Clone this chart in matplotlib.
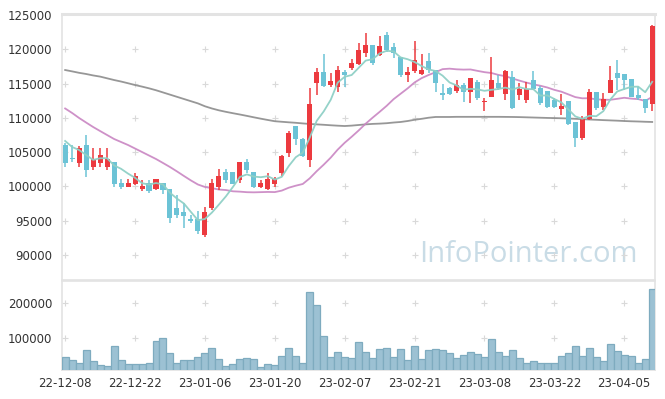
import matplotlib
matplotlib.use("Agg")
import matplotlib.pyplot as plt
import numpy as np

# ---------------- data ----------------
dates = ["22-12-08", "22-12-09", "22-12-12", "22-12-13", "22-12-14", "22-12-15", "22-12-16",
         "22-12-19", "22-12-20", "22-12-21", "22-12-22", "22-12-23", "22-12-26", "22-12-27",
         "22-12-28", "22-12-29",
         "23-01-02", "23-01-03", "23-01-04", "23-01-05", "23-01-06", "23-01-09", "23-01-10",
         "23-01-11", "23-01-12", "23-01-13", "23-01-16", "23-01-17", "23-01-18", "23-01-19",
         "23-01-20", "23-01-25", "23-01-26", "23-01-27", "23-01-30", "23-01-31",
         "23-02-01", "23-02-02", "23-02-03", "23-02-06", "23-02-07", "23-02-08", "23-02-09",
         "23-02-10", "23-02-13", "23-02-14", "23-02-15", "23-02-16", "23-02-17", "23-02-20",
         "23-02-21", "23-02-22", "23-02-23", "23-02-24", "23-02-27", "23-02-28",
         "23-03-02", "23-03-03", "23-03-06", "23-03-07", "23-03-08", "23-03-09", "23-03-10",
         "23-03-13", "23-03-14", "23-03-15", "23-03-16", "23-03-17", "23-03-20", "23-03-21",
         "23-03-22", "23-03-23", "23-03-24", "23-03-27", "23-03-28", "23-03-29", "23-03-30",
         "23-03-31",
         "23-04-03", "23-04-04", "23-04-05", "23-04-06", "23-04-07", "23-04-10", "23-04-11"]

opens = [106040, 104100, 103420, 106040, 102830, 103420, 102830, 103560, 100500, 99920,
         100350, 99630, 100500, 99630, 100500, 99630, 96850, 96270, 95250, 95250,
         92920, 96850, 99920, 102100, 102100, 100940, 103560, 102100, 99920, 99630,
         100350, 101960, 104880, 108810, 106920, 103850, 115080, 116690, 114790, 114500,
         116690, 117270, 117850, 119460, 120630, 119170, 122080, 120330, 118880, 116250,
         116830, 116400, 118290, 116980, 113620, 114350, 113920, 114790, 113770, 115230,
         112310, 113040, 115080, 113480, 115960, 113330, 112600, 115520, 114350, 113920,
         112600, 111290, 112460, 109400, 107060, 109830, 113770, 111580, 113620, 116540,
         116400, 115670, 113330, 112750, 112020]
highs = [106330, 106040, 105900, 107500, 105600, 105600, 105600, 103560, 101080, 101080,
         101960, 100940, 100940, 101080, 100500, 99630, 98750, 97580, 95830, 96420,
         97000, 101080, 102540, 102540, 102100, 103560, 104000, 102100, 100940, 101960,
         101370, 104580, 108080, 108810, 107000, 114350, 117270, 119310, 116540, 117560,
         116980, 118580, 120920, 122380, 120630, 121940, 122520, 120920, 118880, 117420,
         121210, 119310, 119460, 116980, 114940, 114500, 115520, 115080, 115810, 115520,
         112900, 118880, 116250, 116980, 116830, 115080, 115230, 116830, 114650, 113920,
         112900, 113480, 112460, 109400, 110290, 114210, 113770, 113620, 117560, 118440,
         116400, 115670, 114500, 112750, 123540]
lows = [102830, 103560, 102830, 101370, 102400, 102830, 102400, 99920, 99630, 99920,
        100200, 99330, 99040, 99480, 98900, 94670, 95400, 93940, 94670, 93060,
        92630, 96560, 99480, 100500, 100350, 100500, 101960, 99770, 99770, 99480,
        99920, 101520, 104290, 106040, 104290, 102830, 113330, 114500, 114500, 113770,
        114500, 116980, 117710, 118880, 117710, 119020, 119600, 118730, 115960, 115230,
        116540, 116250, 116540, 113770, 112600, 113330, 113620, 112310, 112170, 112600,
        111000, 113040, 114060, 112600, 111300, 112600, 112170, 114060, 111900, 111440,
        111440, 110420, 108960, 105750, 106770, 109690, 111150, 111150, 113620, 114060,
        114060, 113040, 112600, 110710, 111000]
closes = [103420, 103950, 105600, 102400, 104000, 104580, 104000, 100350, 99920, 100500,
          101520, 100060, 99330, 101080, 99480, 95400, 95830, 95690, 94960, 93500,
          96270, 100500, 101520, 100940, 100350, 103560, 102400, 99920, 100500, 101080,
          101080, 104440, 107790, 106920, 104440, 112020, 116690, 114650, 115380, 116980,
          116250, 118000, 119900, 120630, 118000, 120480, 119900, 119460, 116250, 116690,
          118440, 116980, 116980, 115080, 113330, 113480, 114790, 113770, 115810, 112900,
          112460, 115520, 114350, 116830, 111440, 114210, 114210, 114210, 112170, 111580,
          111580, 111730, 109100, 107060, 109830, 113770, 111440, 112750, 115520, 115810,
          115520, 113040, 112900, 111440, 123400]
volumes = [42700, 34000, 25300, 63100, 31100, 19500, 16600, 74700, 34000, 22400,
           22400, 22400, 25300, 89200, 98000, 54400, 25300, 34000, 34000, 42700,
           54400, 68900, 36900, 16600, 22400, 36900, 39800, 36900, 13700, 22400,
           19500, 45600, 68900, 45600, 25300, 231700, 193900, 103800, 42700, 57300,
           42700, 39800, 86300, 57300, 39800, 66000, 68900, 42700, 66000, 34000,
           74700, 36900, 63100, 66000, 63100, 54400, 39800, 48500, 57300, 51500,
           42700, 95100, 57300, 45600, 63100, 39800, 25300, 31100, 25300, 25300,
           25300, 45600, 54400, 74700, 45600, 68900, 42700, 31100, 80500, 60200,
           48500, 45600, 25300, 36900, 240400]

# moving-average values read off the chart where earlier history is not shown
ma5_head = [106630, 105750, 105310, 104580]
ma20_head = [111370, 110710, 109980, 109320, 108670, 108080, 107500, 106920, 106480, 106040,
             105530, 105020, 104510, 104000, 103420, 102830, 102190, 101520, 100870]
ma_long = [116980, 116780, 116570, 116400, 116190, 116020, 115770, 115520, 115300, 115050,
           114790, 114560, 114310, 114030, 113710, 113390, 113070, 112750, 112430, 112110,
           111690, 111370, 111100, 110880, 110680, 110490, 110290, 110080, 109880, 109690,
           109510, 109430, 109350, 109280, 109190, 109110, 109050, 108990, 108920, 108860,
           108810, 108870, 108960, 109050, 109120, 109160, 109220, 109320, 109400, 109540,
           109720, 109860, 110020, 110130, 110130, 110130, 110150, 110150, 110150, 110150,
           110150, 110150, 110150, 110140, 110130, 110110, 110080, 110050, 110020, 109990,
           109970, 109940, 109910, 109860, 109810, 109760, 109720, 109670, 109630, 109590,
           109540, 109500, 109470, 109430, 109400]

tick_step = 10
price_ticks = [90000, 95000, 100000, 105000, 110000, 115000, 120000, 125000]
volume_ticks = [100000, 200000]

# ---------------- derived ----------------
n = len(closes)
xs = np.arange(n)
c = np.array(closes, dtype=float)
ma5 = np.array([ma5_head[i] if i < 4 else c[i - 4:i + 1].mean() for i in range(n)])
ma20 = np.array([ma20_head[i] if i < 19 else c[i - 19:i + 1].mean() for i in range(n)])

RED = "#ec3a3f"
BLUE = "#6cc3d6"
GRID = "#d9d9d9"
SPINE = "#e3e3e3"
TXT = "#333333"

W, H = 665, 399
fig = plt.figure(figsize=(W / 100, H / 100), dpi=100)
ax = fig.add_axes([62 / W, 1 - 280 / H, 593 / W, 266 / H])
axv = fig.add_axes([62 / W, 1 - 370 / H, 593 / W, 89 / H])

# candles
for i in range(n):
    o, hi, lo, cl = opens[i], highs[i], lows[i], closes[i]
    col = RED if cl >= o else BLUE
    ax.vlines(xs[i], lo, hi, color=col, lw=1.1, zorder=3)
    bottom = min(o, cl)
    height = max(abs(cl - o), 180)
    ax.bar(xs[i], height, bottom=bottom, width=0.72, color=col, zorder=4, linewidth=0)

ax.plot(xs, ma_long, color="#8c8c8c", lw=1.3, alpha=0.9, zorder=2)
ax.plot(xs, ma20, color="#c985c2", lw=1.3, alpha=0.9, zorder=2)
ax.plot(xs, ma5, color="#8fd0c6", lw=1.3, alpha=0.95, zorder=5)

xlim = (-0.45, n - 0.6)
ax.set_xlim(*xlim)
ax.set_ylim(86350, 125150)
ax.set_yticks(price_ticks)
ax.set_yticklabels([str(v) for v in price_ticks])
ax.set_xticks([])
ax.tick_params(axis="y", length=0, pad=7, labelsize=8.5, labelcolor=TXT)

tick_pos = list(range(0, n, tick_step))
gx, gy = np.meshgrid(tick_pos, price_ticks[:-1])
ax.scatter(gx.ravel(), gy.ravel(), marker="+", s=18, color=GRID, linewidths=0.8, zorder=1)

for s in ax.spines.values():
    s.set_color(SPINE)
    s.set_linewidth(1.2)
ax.spines["top"].set_linewidth(2.2)

ax.text(0.786, 0.095, "InfoPointer.com", transform=ax.transAxes, ha="center", va="center",
        fontsize=21, color="#c9dce6", family="Open Sans", zorder=0)

# volume
axv.bar(xs, volumes, width=1.0, color="#9cc1d3", edgecolor="#7eabbf", linewidth=0.9, zorder=3)
axv.set_xlim(*xlim)
axv.set_ylim(6000, 264000)
axv.set_yticks(volume_ticks)
axv.set_yticklabels([str(v) for v in volume_ticks])
axv.set_xticks(tick_pos)
axv.set_xticklabels([dates[i] for i in tick_pos])
axv.tick_params(axis="both", length=0, labelsize=8.5, labelcolor=TXT)
axv.tick_params(axis="y", pad=7)
axv.tick_params(axis="x", pad=5)
gx2, gy2 = np.meshgrid(tick_pos, volume_ticks)
axv.scatter(gx2.ravel(), gy2.ravel(), marker="+", s=18, color=GRID, linewidths=0.8, zorder=1)
for s in axv.spines.values():
    s.set_color(SPINE)
    s.set_linewidth(1.2)

fig.savefig("out.png", dpi=100)
